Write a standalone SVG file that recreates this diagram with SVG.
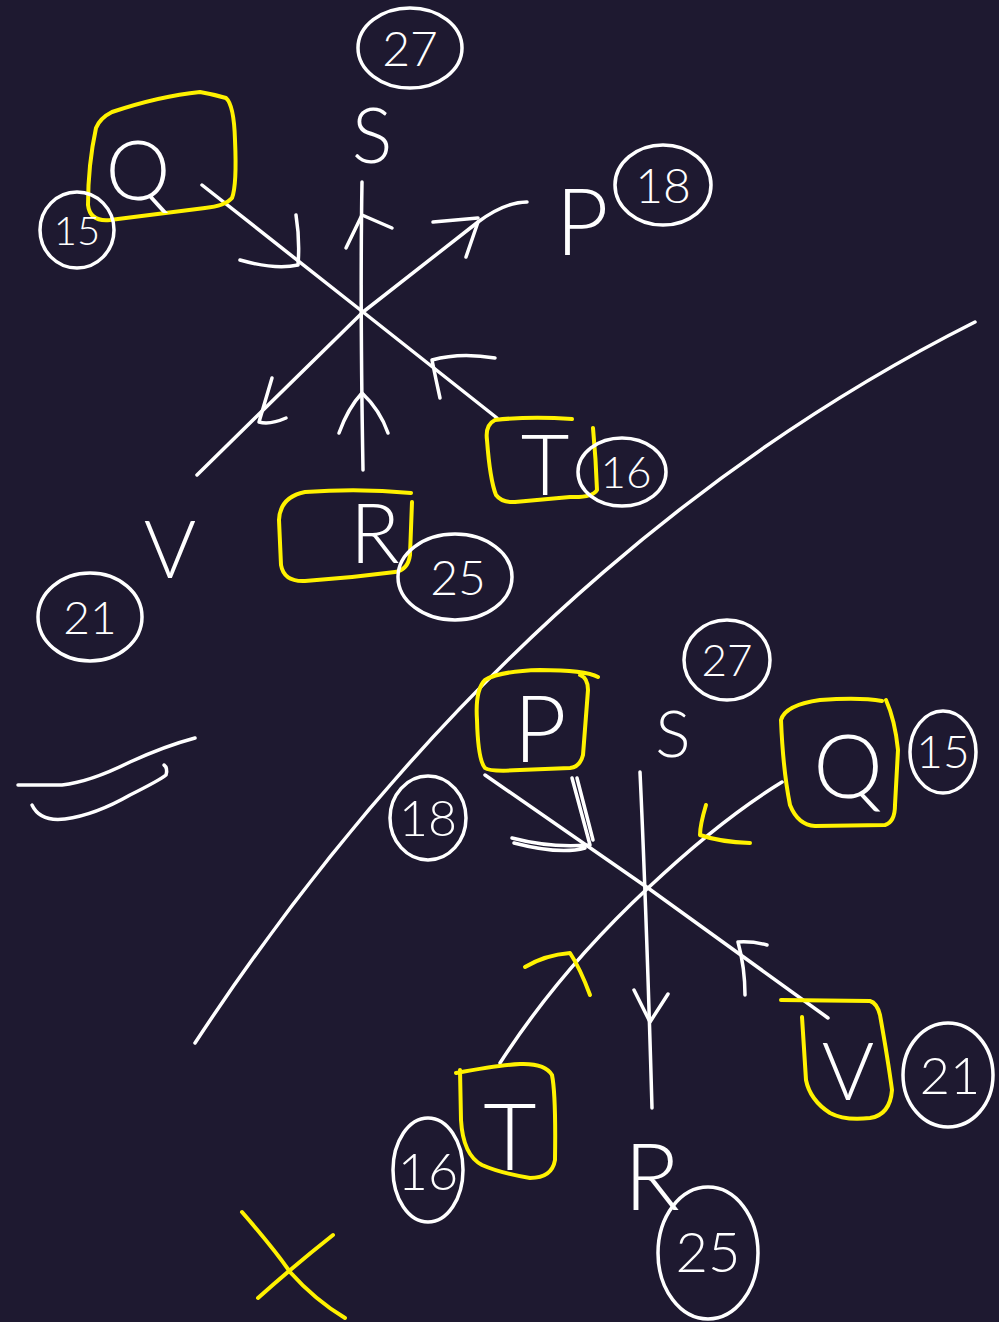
<svg xmlns="http://www.w3.org/2000/svg" width="999" height="1322" viewBox="0 0 999 1322">
<style>
.ln{fill:none;stroke:#ffffff;stroke-width:3.5;stroke-linecap:round;stroke-linejoin:round}
.yl{fill:none;stroke:#fff200;stroke-width:4;stroke-linecap:round;stroke-linejoin:round}
.ov{fill:none;stroke:#ffffff;stroke-width:3.5}
.lt{fill:#ffffff;font-family:Lato,"Liberation Sans",Arial,sans-serif;font-weight:300;text-anchor:middle}
.nm{fill:#ffffff;font-family:Lato,"Liberation Sans",Arial,sans-serif;font-weight:300;text-anchor:middle}
</style>
<rect width="999" height="1322" fill="#1e1930"/>

<g id="connectors">
  <!-- top diagram -->
  <path class="ln" d="M202,185 L363,312 L497,418"/>
  <path class="ln" d="M362,182 Q360,300 363,470"/>
  <path class="ln" d="M197,475 L363,312 L478,222 Q505,202 527,202"/>
  <path class="ln" d="M240,260 Q275,270 298,265 Q300,240 296,215"/>
  <path class="ln" d="M433,222 L478,218 M478,222 L466,257"/>
  <path class="ln" d="M346,248 L362,215 L392,228"/>
  <path class="ln" d="M339,433 Q348,408 362,393 Q380,410 388,433"/>
  <path class="ln" d="M272,378 L259,422 Q270,425 286,418"/>
  <path class="ln" d="M432,360 Q460,352 495,358 M432,360 Q436,380 440,398"/>
  <!-- divider -->
  <path class="ln" d="M975,322 C760,430 460,640 195,1043"/>
  <!-- bottom diagram -->
  <path class="ln" d="M485,775 L648,888 L828,1018"/>
  <path class="ln" d="M640,772 Q646,900 652,1108"/>
  <path class="ln" d="M782,782 Q720,820 648,888 Q560,970 500,1063"/>
  <path class="ln" d="M512,838 Q550,848 588,845 M514,843 Q560,855 585,848 M572,778 L590,845 M577,778 L593,840"/>
  <path class="ln" d="M634,990 L650,1022 L668,994"/>
  <path class="ln" d="M738,942 Q752,941 767,945 M738,942 Q745,968 745,995"/>
  <path class="yl" d="M706,805 Q700,825 700,835 Q720,842 750,843"/>
  <path class="yl" d="M525,967 Q545,955 570,953 Q580,968 590,995"/>
</g>

<g id="node-top-S">
  <text class="lt" x="372" y="163" font-size="76">S</text>
  <ellipse class="ov" cx="410" cy="48" rx="52" ry="40"/>
  <text class="nm" x="410" y="66" font-size="48">27</text>
</g>
<g id="node-top-Q">
  <path class="yl" d="M96,128 Q100,118 112,112 Q160,96 200,92 Q212,94 226,98 Q234,105 235,140 Q237,185 232,198 Q225,206 205,208 L110,220 Q90,222 88,205 Q88,165 96,128 Z"/>
  <text class="lt" x="138" y="200" font-size="82">Q</text>
  <ellipse class="ov" cx="77" cy="230" rx="37" ry="38"/>
  <text class="nm" x="77" y="245" font-size="40">15</text>
</g>
<g id="node-top-P">
  <text class="lt" x="582" y="255" font-size="92">P</text>
  <ellipse class="ov" cx="663" cy="185" rx="48" ry="40"/>
  <text class="nm" x="663" y="203" font-size="48">18</text>
</g>
<g id="node-top-T">
  <path class="yl" d="M572,419 Q530,416 495,420 Q485,425 487,440 Q490,480 496,495 Q502,503 515,502 L570,497 Q592,498 597,490 Q596,460 593,428"/>
  <text class="lt" x="545" y="495" font-size="84">T</text>
  <ellipse class="ov" cx="622" cy="472" rx="44" ry="34"/>
  <text class="nm" x="626" y="488" font-size="44">16</text>
</g>
<g id="node-top-R">
  <path class="yl" d="M411,493 Q360,488 305,492 Q280,497 279,520 L281,565 Q284,582 305,581 Q350,578 395,572 Q408,570 410,555 L412,502"/>
  <text class="lt" x="375" y="563" font-size="82">R</text>
  <ellipse class="ov" cx="455" cy="577" rx="57" ry="43"/>
  <text class="nm" x="458" y="595" font-size="48">25</text>
</g>
<g id="node-top-V">
  <text class="lt" x="170" y="578" font-size="80">V</text>
  <ellipse class="ov" cx="90" cy="617" rx="52" ry="44"/>
  <text class="nm" x="90" y="634" font-size="46">21</text>
</g>

<g id="scribble">
  <path class="ln" d="M18,785 L62,785 Q90,782 130,762 Q165,746 195,738"/>
  <path class="ln" d="M32,805 Q40,822 65,819 Q95,815 130,795 Q160,780 166,775 Q168,768 164,765"/>
</g>

<g id="node-bottom-P">
  <path class="yl" d="M598,677 Q585,670 540,670 Q500,671 485,680 Q475,690 477,720 Q478,760 485,768 Q490,772 520,770 L570,768 Q580,767 583,755 L588,690 Q588,678 580,675"/>
  <text class="lt" x="540" y="762" font-size="92">P</text>
  <ellipse class="ov" cx="428" cy="818" rx="38" ry="42"/>
  <text class="nm" x="428" y="836" font-size="50">18</text>
</g>
<g id="node-bottom-S">
  <text class="lt" x="673" y="757" font-size="66">S</text>
  <ellipse class="ov" cx="727" cy="660" rx="43" ry="40"/>
  <text class="nm" x="727" y="676" font-size="44">27</text>
</g>
<g id="node-bottom-Q">
  <path class="yl" d="M882,701 Q860,697 820,700 Q785,705 781,720 Q783,770 790,805 Q798,825 815,826 L885,825 Q895,822 895,805 L898,750 Q895,720 886,700"/>
  <text class="lt" x="848" y="798" font-size="88">Q</text>
  <ellipse class="ov" cx="943" cy="752" rx="33" ry="41"/>
  <text class="nm" x="943" y="768" font-size="46">15</text>
</g>
<g id="node-bottom-V">
  <path class="yl" d="M781,1000 L870,1001 Q877,1003 880,1015 Q888,1060 892,1090 Q890,1115 870,1118 Q845,1121 830,1113 Q810,1100 806,1080 L802,1017"/>
  <text class="lt" x="848" y="1100" font-size="80">V</text>
  <ellipse class="ov" cx="948" cy="1075" rx="45" ry="52"/>
  <text class="nm" x="950" y="1094" font-size="52">21</text>
</g>
<g id="node-bottom-T">
  <path class="yl" d="M456,1073 Q500,1065 520,1064 Q545,1063 552,1075 Q556,1095 555,1160 Q552,1178 530,1178 Q500,1173 482,1165 Q463,1155 461,1120 L460,1070"/>
  <text class="lt" x="510" y="1170" font-size="92">T</text>
  <ellipse class="ov" cx="428" cy="1170" rx="35" ry="52"/>
  <text class="nm" x="428" y="1190" font-size="52">16</text>
</g>
<g id="node-bottom-R">
  <text class="lt" x="652" y="1210" font-size="92">R</text>
  <ellipse class="ov" cx="708" cy="1253" rx="50" ry="66"/>
  <text class="nm" x="708" y="1272" font-size="56">25</text>
</g>

<g id="yellow-x">
  <path class="yl" d="M242,1212 Q275,1250 290,1272 Q315,1300 345,1318"/>
  <path class="yl" d="M258,1298 Q295,1265 333,1235"/>
</g>
</svg>
